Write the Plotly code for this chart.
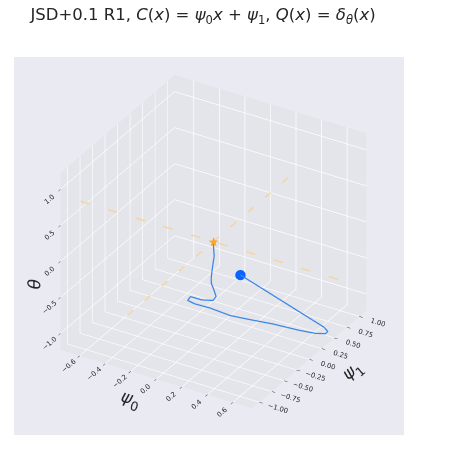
import plotly.graph_objects as go

# trajectory of (psi0, psi1, theta), start point first
psi0 = [-0.13, 0.64, 0.68, 0.68, 0.63, 0.53, 0.36, 0.21, 0.10, -0.04, -0.13, -0.17,
        -0.16, -0.05, 0.04, 0.06, 0.04, 0.02, 0.01, 0.01, 0.01, 0.0, 0.0]
psi1 = [0.87, 0.58, 0.55, 0.50, 0.43, 0.36, 0.27, 0.16, 0.08, 0.03, -0.04, -0.08,
        -0.05, -0.11, -0.11, -0.10, -0.09, -0.09, -0.07, -0.05, -0.01, 0.0, 0.0]
theta = [-1.05, -1.19, -1.21, -1.21, -1.19, -1.16, -1.11, -1.06, -1.02, -0.96, -0.91, -0.86,
         -0.82, -0.77, -0.73, -0.67, -0.60, -0.52, -0.46, -0.35, -0.19, -0.055, 0.0]

# equilibrium and the two reference lines through it
opt = (0.0, 0.0, 0.0)
line_psi0 = [-1.04, 1.12]
line_psi1 = [-1.72, 1.72]

x_range = [-0.75, 0.75]
y_range = [-1.14, 1.14]
z_range = [-1.23, 1.23]
x_ticks = [-0.6, -0.4, -0.2, 0.0, 0.2, 0.4, 0.6]
y_ticks = [-1.0, -0.75, -0.5, -0.25, 0.0, 0.25, 0.5, 0.75, 1.0]
z_ticks = [-1.0, -0.5, 0.0, 0.5, 1.0]

BG = "#EAEAF2"
PANE = "#E4E4EB"
TXT = "#262626"
ORANGE = "#F5D5A0"

# the html page has an 8px body margin, so work in page pixels minus 8
W, H, OFF = 467, 454, 8

fig = go.Figure()

fig.add_trace(go.Scatter3d(
    x=psi0, y=psi1, z=theta, mode="lines",
    line=dict(color="#3a86e8", width=2.5), showlegend=False, scene="scene"))
fig.add_trace(go.Scatter3d(
    x=[psi0[0]], y=[psi1[0]], z=[theta[0]], mode="markers",
    marker=dict(color="#0a62ff", size=6, line=dict(width=0)), showlegend=False, scene="scene"))

# dashed lines run past the axis limits (like matplotlib), so they live in an
# overlay scene with wider ranges but the same camera and scale
K = 2.2
fig.add_trace(go.Scatter3d(
    x=line_psi0, y=[opt[1]] * 2, z=[opt[2]] * 2, mode="lines",
    line=dict(color=ORANGE, width=3, dash="longdash"), showlegend=False, scene="scene2"))
fig.add_trace(go.Scatter3d(
    x=[opt[0]] * 2, y=line_psi1, z=[opt[2]] * 2, mode="lines",
    line=dict(color=ORANGE, width=3, dash="longdash"), showlegend=False, scene="scene2"))
fig.add_trace(go.Scatter3d(
    x=[opt[0]], y=[opt[1]], z=[opt[2]], mode="text", text=["★"], textposition="middle center",
    textfont=dict(color="#ffa41f", size=13), showlegend=False, scene="scene2"))


def axis(title, rng, ticks, fmt):
    return dict(
        title=dict(text=title, font=dict(family="DejaVu Sans", size=17, color=TXT)),
        range=rng, tickvals=ticks, tickformat=fmt,
        tickfont=dict(family="DejaVu Sans", size=9, color=TXT),
        showbackground=True, backgroundcolor=PANE,
        gridcolor="white", gridwidth=1.5, zeroline=False, showline=False,
        ticks="outside", ticklen=4, tickcolor=TXT, showspikes=False,
    )


aspect = dict(x=1.18, y=1.18, z=1.09)
eye = dict(x=0.433 * 2, y=-0.75 * 2, z=0.5 * 2)
dom = dict(x=[(14 - OFF) / W, (404 - OFF) / W], y=[1 - (435 - OFF) / H, 1 - (57 - OFF) / H])
cam = dict(eye=eye, center=dict(x=-0.014, y=-0.022, z=-0.02), up=dict(x=0, y=0, z=1),
           projection=dict(type="orthographic"))

hidden = dict(visible=False, showspikes=False, showbackground=False)

fig.update_layout(
    width=W, height=H,
    margin=dict(l=0, r=0, t=0, b=0),
    paper_bgcolor="white",
    title=dict(
        text="JSD+0.1 R1, <i>C</i>(<i>x</i>) = <i>ψ</i><sub>0</sub><i>x</i> + <i>ψ</i><sub>1</sub>, "
             "<i>Q</i>(<i>x</i>) = <i>δ</i><sub><i>θ</i></sub>(<i>x</i>)",
        x=(203 - OFF) / W, xanchor="center", y=1 - (14.5 - OFF) / H, yanchor="middle",
        font=dict(family="DejaVu Sans", size=16.5, color=TXT)),
    scene=dict(
        domain=dom, bgcolor=BG,
        xaxis=axis("<i>ψ</i><sub>0</sub>", x_range, x_ticks, ".1f"),
        yaxis=axis("<i>ψ</i><sub>1</sub>", y_range, y_ticks, ".2f"),
        zaxis=axis("<i>θ</i>", z_range, z_ticks, ".1f"),
        aspectmode="manual", aspectratio=aspect,
        camera=cam,
    ),
    scene2=dict(
        domain=dom, bgcolor="rgba(0,0,0,0)",
        xaxis=dict(range=[v * K for v in x_range], **hidden),
        yaxis=dict(range=[v * K for v in y_range], **hidden),
        zaxis=dict(range=[v * K for v in z_range], **hidden),
        aspectmode="manual", aspectratio={k: v * K for k, v in aspect.items()},
        camera=cam,
    ),
)

fig.write_html("out.html")
